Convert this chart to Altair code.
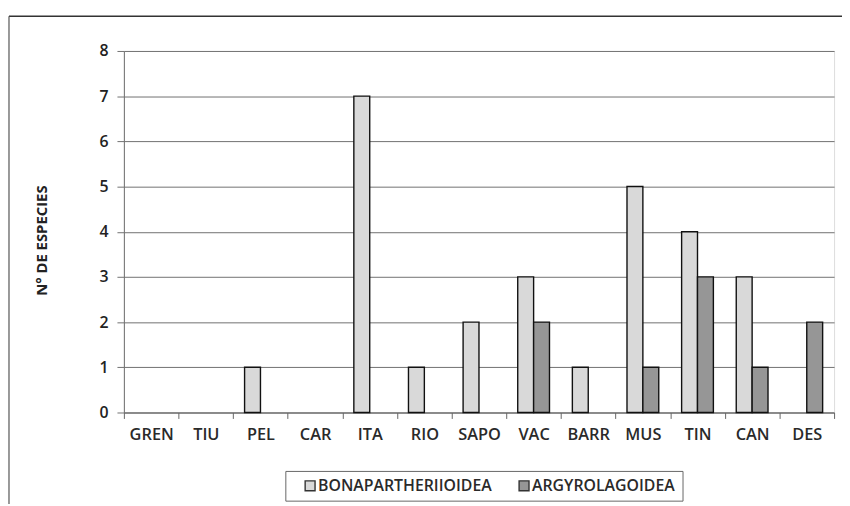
import altair as alt
import pandas as pd

categories = ["GREN", "TIU", "PEL", "CAR", "ITA", "RIO", "SAPO", "VAC", "BARR", "MUS", "TIN", "CAN", "DES"]
bonapartherioidea = [0, 0, 1, 0, 7, 1, 2, 3, 1, 5, 4, 3, 0]
argyrolagoidea = [0, 0, 0, 0, 0, 0, 0, 2, 0, 1, 3, 1, 2]
series_names = ["BONAPARTHERIIOIDEA", "ARGYROLAGOIDEA"]
series_colors = ["#d9d9d9", "#969696"]
y_ticks = [0, 1, 2, 3, 4, 5, 6, 7, 8]

rows = []
for c, b, a in zip(categories, bonapartherioidea, argyrolagoidea):
    rows.append({"cat": c, "serie": series_names[0], "n": b})
    rows.append({"cat": c, "serie": series_names[1], "n": a})
df = pd.DataFrame(rows)

FONT = "Open Sans"
W = 600

bars = alt.Chart(df).transform_filter(alt.datum.n > 0).mark_bar(
    stroke="#111111", strokeWidth=1.4
).encode(
    x=alt.X("cat:N", sort=categories,
            scale=alt.Scale(domain=categories, paddingInner=0, paddingOuter=0),
            axis=alt.Axis(title=None, labelAngle=0, tickBand="extent", tickSize=6,
                          labelPadding=8, labelFontSize=16.5, labelFont=FONT,
                          labelFontWeight=W,
                          labelColor="#2a2a2a", domainColor="#666666",
                          tickColor="#666666", grid=False)),
    xOffset=alt.XOffset("serie:N", sort=series_names,
                        scale=alt.Scale(domain=series_names, paddingInner=0, paddingOuter=0.72)),
    y=alt.Y("n:Q", scale=alt.Scale(domain=[0, 8], nice=False),
            axis=alt.Axis(title="N° DE ESPECIES", values=y_ticks, tickSize=7,
                          labelPadding=9, labelFontSize=16, labelFont=FONT,
                          labelFontWeight=W,
                          labelColor="#222222", grid=True, gridColor="#707070",
                          gridWidth=1, domainColor="#707070", tickColor="#707070",
                          titleFont=FONT, titleFontSize=15, titleFontWeight="bold",
                          titleColor="#222222", titleAngle=270, titleBaseline="middle",
                          titleAlign="center", titleX=-83, titleY=191)),
    color=alt.Color("serie:N", sort=series_names,
                    scale=alt.Scale(domain=series_names, range=series_colors),
                    legend=alt.Legend(title=None, orient="none", legendX=163, legendY=424,
                                      direction="horizontal", symbolType="square",
                                      symbolSize=100, symbolStrokeColor="#333333",
                                      symbolStrokeWidth=1.4, symbolOffset=10,
                                      labelFont=FONT,
                                      labelFontSize=16, labelFontWeight=W,
                                      labelColor="#2a2a2a", labelLimit=400,
                                      labelOffset=0, columnPadding=14,
                                      strokeColor="#666666", padding=7,
                                      fillColor="white")),
)

border_top = alt.Chart(pd.DataFrame({"k": [0]})).mark_rule(color="#333333", strokeWidth=1.5).encode(
    x=alt.value(-116), x2=alt.value(760), y=alt.value(-35)
)
border_left = alt.Chart(pd.DataFrame({"k": [0]})).mark_rule(color="#555555", strokeWidth=1.2).encode(
    x=alt.value(-116), y=alt.value(-35), y2=alt.value(460)
)

chart = alt.layer(border_top, border_left, bars).properties(
    width=717, height=365,
    autosize=alt.AutoSizeParams(type="none"),
    padding={"left": 117, "top": 41, "right": 8, "bottom": 90},
).configure_view(stroke=None).configure(background="white")

chart.save("out.html", embed_options={"renderer": "svg", "actions": False})
